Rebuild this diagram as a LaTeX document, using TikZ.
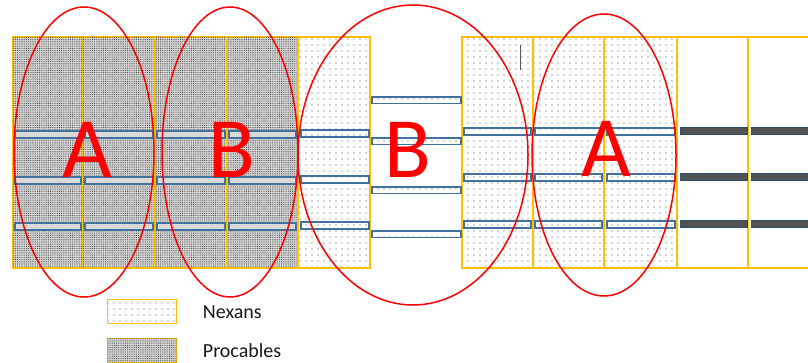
\documentclass[tikz,border=0pt]{standalone}
\usepackage{fontspec}
\setmainfont{Carlito}
\usepackage{tikz}
\usetikzlibrary{patterns.meta,positioning}

\definecolor{cellgold}{HTML}{FFC000}
\definecolor{barblue}{HTML}{41719C}

\begin{document}
\begin{tikzpicture}[
  x=1pt, y=-1pt,
  nexans/.style={draw=cellgold, line width=1.4pt,
    pattern={Dots[distance=6pt, radius=0.6pt]}, pattern color=black!70},
  procables/.style={draw=cellgold, line width=1.4pt, fill=gray!35,
    postaction={pattern={Dots[distance=2.2pt, radius=0.55pt]}, pattern color=black!75}},
  empty/.style={draw=cellgold, line width=1.4pt},
  bar/.style={draw=barblue, line width=1.3pt},
  darkbar/.style={draw=barblue!70!black, line width=1pt, fill=black!68},
  zone/.style={draw=red, line width=1.5pt},
  letter/.style={text=red, inner sep=0pt, font=\fontsize{86}{86}\selectfont},
  key/.style={minimum width=69pt, minimum height=24pt, anchor=north west},
  keytext/.style={font=\fontsize{20}{22}\selectfont, text=black!90}
]
  \path[clip] (0,0) rectangle (808,363);

  % cable trays: Procables, then Nexans, then free slots
  \foreach \xl/\xr in {13/83, 83/155, 155/227, 227/298}
    \draw[procables] (\xl,37) rectangle (\xr,268);
  \foreach \xl/\xr in {298/370, 462/533, 533/604, 604/677}
    \draw[nexans] (\xl,37) rectangle (\xr,268);
  \foreach \xl/\xr in {677/748, 748/814}
    \draw[empty] (\xl,37) rectangle (\xr,268);

  % cross bars
  \foreach \xl/\xr in {15/81, 85/153, 157/225, 229/296}
    \foreach \y in {131, 177, 223}
      \draw[bar, fill=gray!30] (\xl,\y) rectangle (\xr,\y+7);
  \foreach \y in {130, 176, 222}
    \draw[bar] (301,\y) rectangle (369,\y+7);
  \foreach \y in {97, 138, 187, 231}
    \draw[bar, pattern={Dots[distance=6pt, radius=0.6pt]}, pattern color=black!70]
      (372,\y) rectangle (461,\y+6.5);
  \foreach \xl/\xr in {464/531, 535/602, 607/675}
    \foreach \y in {128, 174, 221}
      \draw[bar] (\xl,\y) rectangle (\xr,\y+7);
  \foreach \xl/\xr in {680/747, 751/812}
    \foreach \y in {128, 174, 221}
      \draw[darkbar] (\xl,\y) rectangle (\xr,\y+6.5);

  \draw[black!65, line width=1pt] (520,45) -- (520,70);

  % zones
  \draw[zone] (84,152) ellipse [x radius=70pt, y radius=145pt];
  \draw[zone] (230,152) ellipse [x radius=68pt, y radius=145pt];
  \draw[zone] (413,155) ellipse [x radius=115pt, y radius=150pt];
  \draw[zone] (604,155) ellipse [x radius=72pt, y radius=141pt];

  \node[letter] (zoneA) at (87,150) {A};
  \node[letter] (zoneB) at (232,150) {B};
  \node[letter] (zoneBmid) at (408,150) {B};
  \node[letter] (zoneAright) at (606,149) {A};

  % legend
  \node[nexans, key] (keyNexans) at (107,299) {};
  \node[procables, key] (keyProcables) at (107,338) {};
  \node[keytext, right=22pt of keyNexans] (txtNexans) {Nexans};
  \node[keytext, right=22pt of keyProcables] (txtProcables) {Procables};
\end{tikzpicture}
\end{document}
